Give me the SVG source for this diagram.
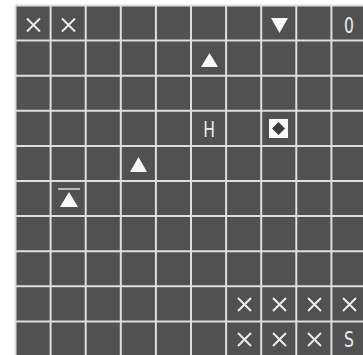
<svg xmlns="http://www.w3.org/2000/svg" width="363" height="355" viewBox="0 0 363 355">
<style>
.grid{stroke:#dedede;stroke-width:2;fill:none}
.x{stroke:#ececec;stroke-width:2;stroke-linecap:butt;fill:none}
.sym{fill:#f8f8f8}
.t{font-family:"DejaVu Sans","Liberation Sans",sans-serif;font-size:20px;font-weight:normal;fill:#ececec;text-anchor:middle}
</style>
<defs>
<path id="xm" class="x" d="M-6.5,-6.5 L6.5,6.5 M-6.5,6.5 L6.5,-6.5"/>
</defs>
<rect x="0" y="0" width="363" height="355" fill="#ffffff"/>
<rect x="15.5" y="5.5" width="360" height="360" fill="#515151"/>
<g id="gridlines" class="grid">
<path d="M15.5,5.5V355 M50.6,5.5V355 M85.7,5.5V355 M120.8,5.5V355 M155.9,5.5V355 M191,5.5V355 M226.1,5.5V355 M261.2,5.5V355 M296.3,5.5V355 M331.4,5.5V355"/>
<path d="M15.5,5.5H363 M15.5,40.6H363 M15.5,75.7H363 M15.5,110.8H363 M15.5,145.9H363 M15.5,181H363 M15.5,216.1H363 M15.5,251.2H363 M15.5,286.3H363 M15.5,321.4H363"/>
</g>
<g id="x-r0c0"><use href="#xm" x="33.5" y="25"/></g>
<g id="x-r0c1"><use href="#xm" x="68.5" y="25"/></g>
<g id="down-r0c7"><polygon class="sym" points="271,18 288,18 279.5,33"/></g>
<g id="zero-r0c9"><text class="t" transform="translate(349,33) scale(0.78,1.08)">0</text></g>
<g id="up-r1c5"><polygon class="sym" points="209.5,53 218,67 201,67"/></g>
<g id="h-r3c5"><text class="t" transform="translate(209,137) scale(0.78,1.08)">H</text></g>
<g id="diamond-r3c7"><rect x="269" y="119" width="19" height="19" fill="#f8f8f8"/><polygon points="278.5,122 285,128.5 278.5,135 272,128.5" fill="#3a3a3a"/></g>
<g id="up-r4c3"><polygon class="sym" points="138.5,157 147,172 130,172"/></g>
<g id="up-r5c1"><line x1="58" y1="189" x2="80" y2="189" stroke="#dcdcdc" stroke-width="1.5"/><polygon class="sym" points="69,192 78,207 60,207"/></g>
<g id="x-r8c6"><use href="#xm" x="244.5" y="304.5"/></g>
<g id="x-r8c7"><use href="#xm" x="279.5" y="304.5"/></g>
<g id="x-r8c8"><use href="#xm" x="314.5" y="304.5"/></g>
<g id="x-r8c9"><use href="#xm" x="349.5" y="304.5"/></g>
<g id="x-r9c6"><use href="#xm" x="244.5" y="339.5"/></g>
<g id="x-r9c7"><use href="#xm" x="279.5" y="339.5"/></g>
<g id="x-r9c8"><use href="#xm" x="314.5" y="339.5"/></g>
<g id="s-r9c9"><text class="t" transform="translate(349,347) scale(0.78,1.08)">S</text></g>
</svg>
